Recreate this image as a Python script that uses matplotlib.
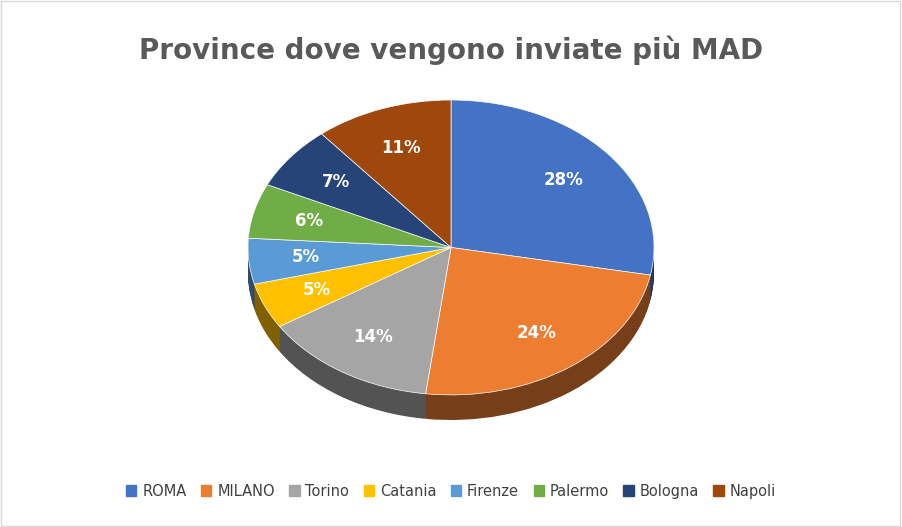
import matplotlib
matplotlib.use("Agg")
import matplotlib.pyplot as plt
import numpy as np
from matplotlib.colors import to_rgb
from matplotlib.patches import Rectangle

categories = ["ROMA", "MILANO", "Torino", "Catania", "Firenze", "Palermo", "Bologna", "Napoli"]
values = [28, 24, 14, 5, 5, 6, 7, 11]
colors = ["#4472C4", "#ED7D31", "#A5A5A5", "#FFC000", "#5B9BD5", "#70AD47", "#264478", "#9E480E"]

fig = plt.figure(figsize=(9.02, 5.27), dpi=100)
fig.patches.append(Rectangle((0.001, 0.002), 0.997, 0.996, transform=fig.transFigure,
                             fill=False, edgecolor="#D9D9D9", lw=1))
W, H = 902, 527
ax = fig.add_axes([248 / W, 107 / H, 406 / W, 320 / H])
depth = 0.17
dark = [tuple(c * 0.5 for c in to_rgb(col)) for col in colors]
for k in np.linspace(depth, 0.005, 30):
    ax.pie(values, colors=dark, startangle=90, counterclock=False, center=(0, -k),
           radius=1, wedgeprops=dict(linewidth=0))
ax.pie(values, colors=colors, startangle=90, counterclock=False, center=(0, 0), radius=1,
       autopct="%d%%", pctdistance=0.72,
       textprops=dict(color="white", fontsize=12, fontweight="bold"),
       wedgeprops=dict(linewidth=0.5, edgecolor="white"))
ax.set_aspect("auto")
ax.set_xlim(-1, 1)
ax.set_ylim(-1 - depth, 1)
ax.axis("off")

fig.text(0.5, 0.905, "Province dove vengono inviate più MAD", ha="center", va="center",
         fontsize=20, fontweight="bold", color="#595959")
handles = [Rectangle((0, 0), 1, 1, color=c) for c in colors]
fig.legend(handles, categories, loc="center", bbox_to_anchor=(0.5, 0.068), ncol=8,
           frameon=False, fontsize=10.5, handlelength=0.7, handleheight=0.7,
           handletextpad=0.4, columnspacing=1.0, labelcolor="#404040")
fig.savefig("out.png", dpi=100)
